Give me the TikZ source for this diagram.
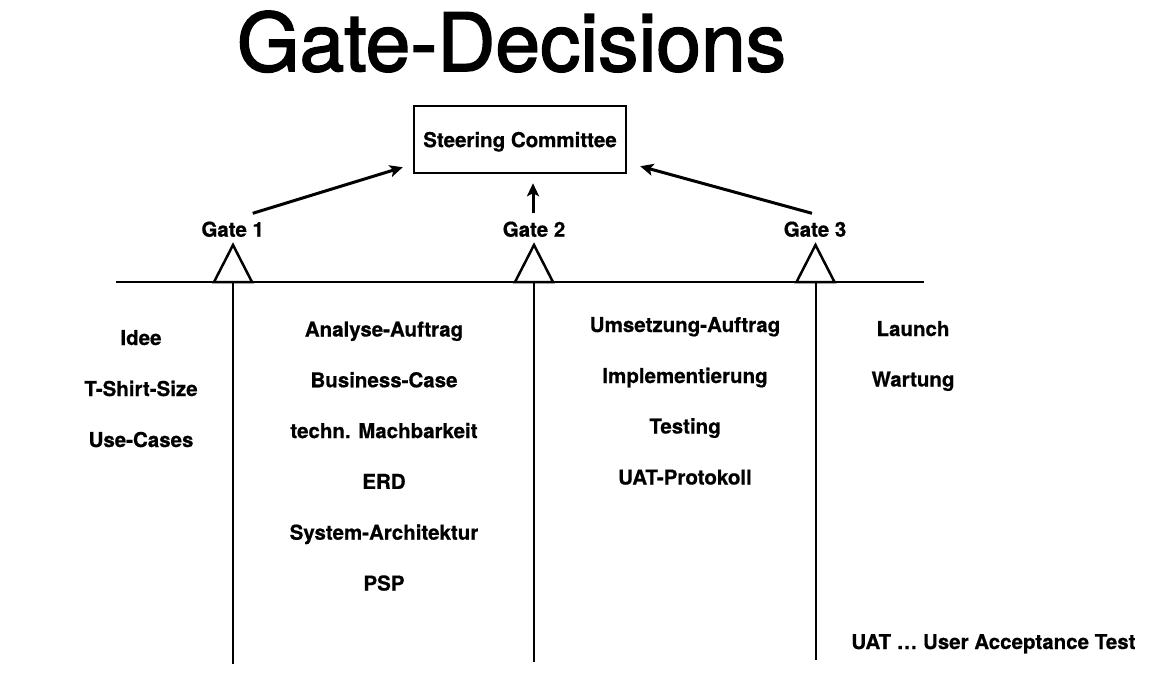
\documentclass[tikz,border=0pt]{standalone}
\usepackage{fontspec}
\setmainfont{TeX Gyre Heros}
\newfontfamily\titlefont[FakeBold=2]{TeX Gyre Heros}
\newfontfamily\lblfont[FakeBold=0.6]{TeX Gyre Heros Bold}
\usetikzlibrary{arrows.meta}
\begin{document}
\begin{tikzpicture}[x=1pt,y=-1pt,
  lbl/.style={font=\lblfont\fontsize{20.5}{24}\selectfont, inner sep=0pt, anchor=base},
  arr/.style={line width=3pt, -{Stealth[length=13pt,width=12pt,inset=3pt]}},
  tri/.style={line width=2.5pt, line join=miter},
  vline/.style={line width=2pt},
  tline/.style={line width=1.5pt}]
\useasboundingbox (0,0) rectangle (1166,675);
% title
\node[font=\titlefont\fontsize{80.5}{90}\selectfont, inner sep=0pt, anchor=base] (title) at (511.5,71) {Gate-Decisions};
% steering committee
\node[draw, line width=2.5pt, minimum width=212pt, minimum height=67pt, inner sep=0pt, text depth=0pt,
      font=\lblfont\fontsize{20.5}{24}\selectfont] (sc) at (520,139.5) {Steering Committee};
% timeline
\coordinate (L) at (116,282);
\coordinate (R) at (924,282);
\draw[tline] (L) -- (R);
\coordinate (t1) at (233,282);
\coordinate (t2) at (534,282);
\coordinate (t3) at (815.5,282);
\coordinate (b1) at (233,664);
\coordinate (b2) at (534,662);
\coordinate (b3) at (815.5,660);
\draw[vline] (t1) -- (b1);
\draw[vline] (t2) -- (b2);
\draw[vline] (t3) -- (b3);
\foreach \t in {t1,t2,t3}{
  \draw[tri] ([xshift=-19pt]\t) -- ([shift={(0,-37)}]\t) -- ([xshift=19pt]\t) -- cycle;
}
% gate labels
\node[lbl] (g1) at (232.7,236.7) {Gate 1};
\node[lbl] (g2) at (534,236.7) {Gate 2};
\node[lbl] (g3) at (815,236.7) {Gate 3};
% arrows
\draw[arr] ([shift={(20,-8)}]g1.north) -- ([shift={(-10,-7)}]sc.south west);
\draw[arr] ([shift={(-1,-8)}]g2.north) -- ([shift={(13,9)}]sc.south);
\draw[arr] ([shift={(-3,-8)}]g3.north) -- ([shift={(13,-8)}]sc.south east);
% column 1
\node[lbl] (c1a) at (141,345) {Idee};
\node[lbl] (c1b) at (141,396) {T-Shirt-Size};
\node[lbl] (c1c) at (141,447) {Use-Cases};
% column 2
\node[lbl] (c2a) at (384,336.5) {Analyse-Auftrag};
\node[lbl] (c2b) at (384,387.3) {Business-Case};
\node[lbl] (c2c) at (384,438.1) {techn. Machbarkeit};
\node[lbl] (c2d) at (384,488.9) {ERD};
\node[lbl] (c2e) at (384,539.7) {System-Architektur};
\node[lbl] (c2f) at (384,590.5) {PSP};
% column 3
\node[lbl] (c3a) at (685,332) {Umsetzung-Auftrag};
\node[lbl] (c3b) at (685,383) {Implementierung};
\node[lbl] (c3c) at (685,433.5) {Testing};
\node[lbl] (c3d) at (685,484.5) {UAT-Protokoll};
% column 4
\node[lbl] (c4a) at (913,336) {Launch};
\node[lbl] (c4b) at (913,386.5) {Wartung};
% footnote
\node[lbl] (uat) at (993.4,649) {UAT … User Acceptance Test};
\end{tikzpicture}
\end{document}
